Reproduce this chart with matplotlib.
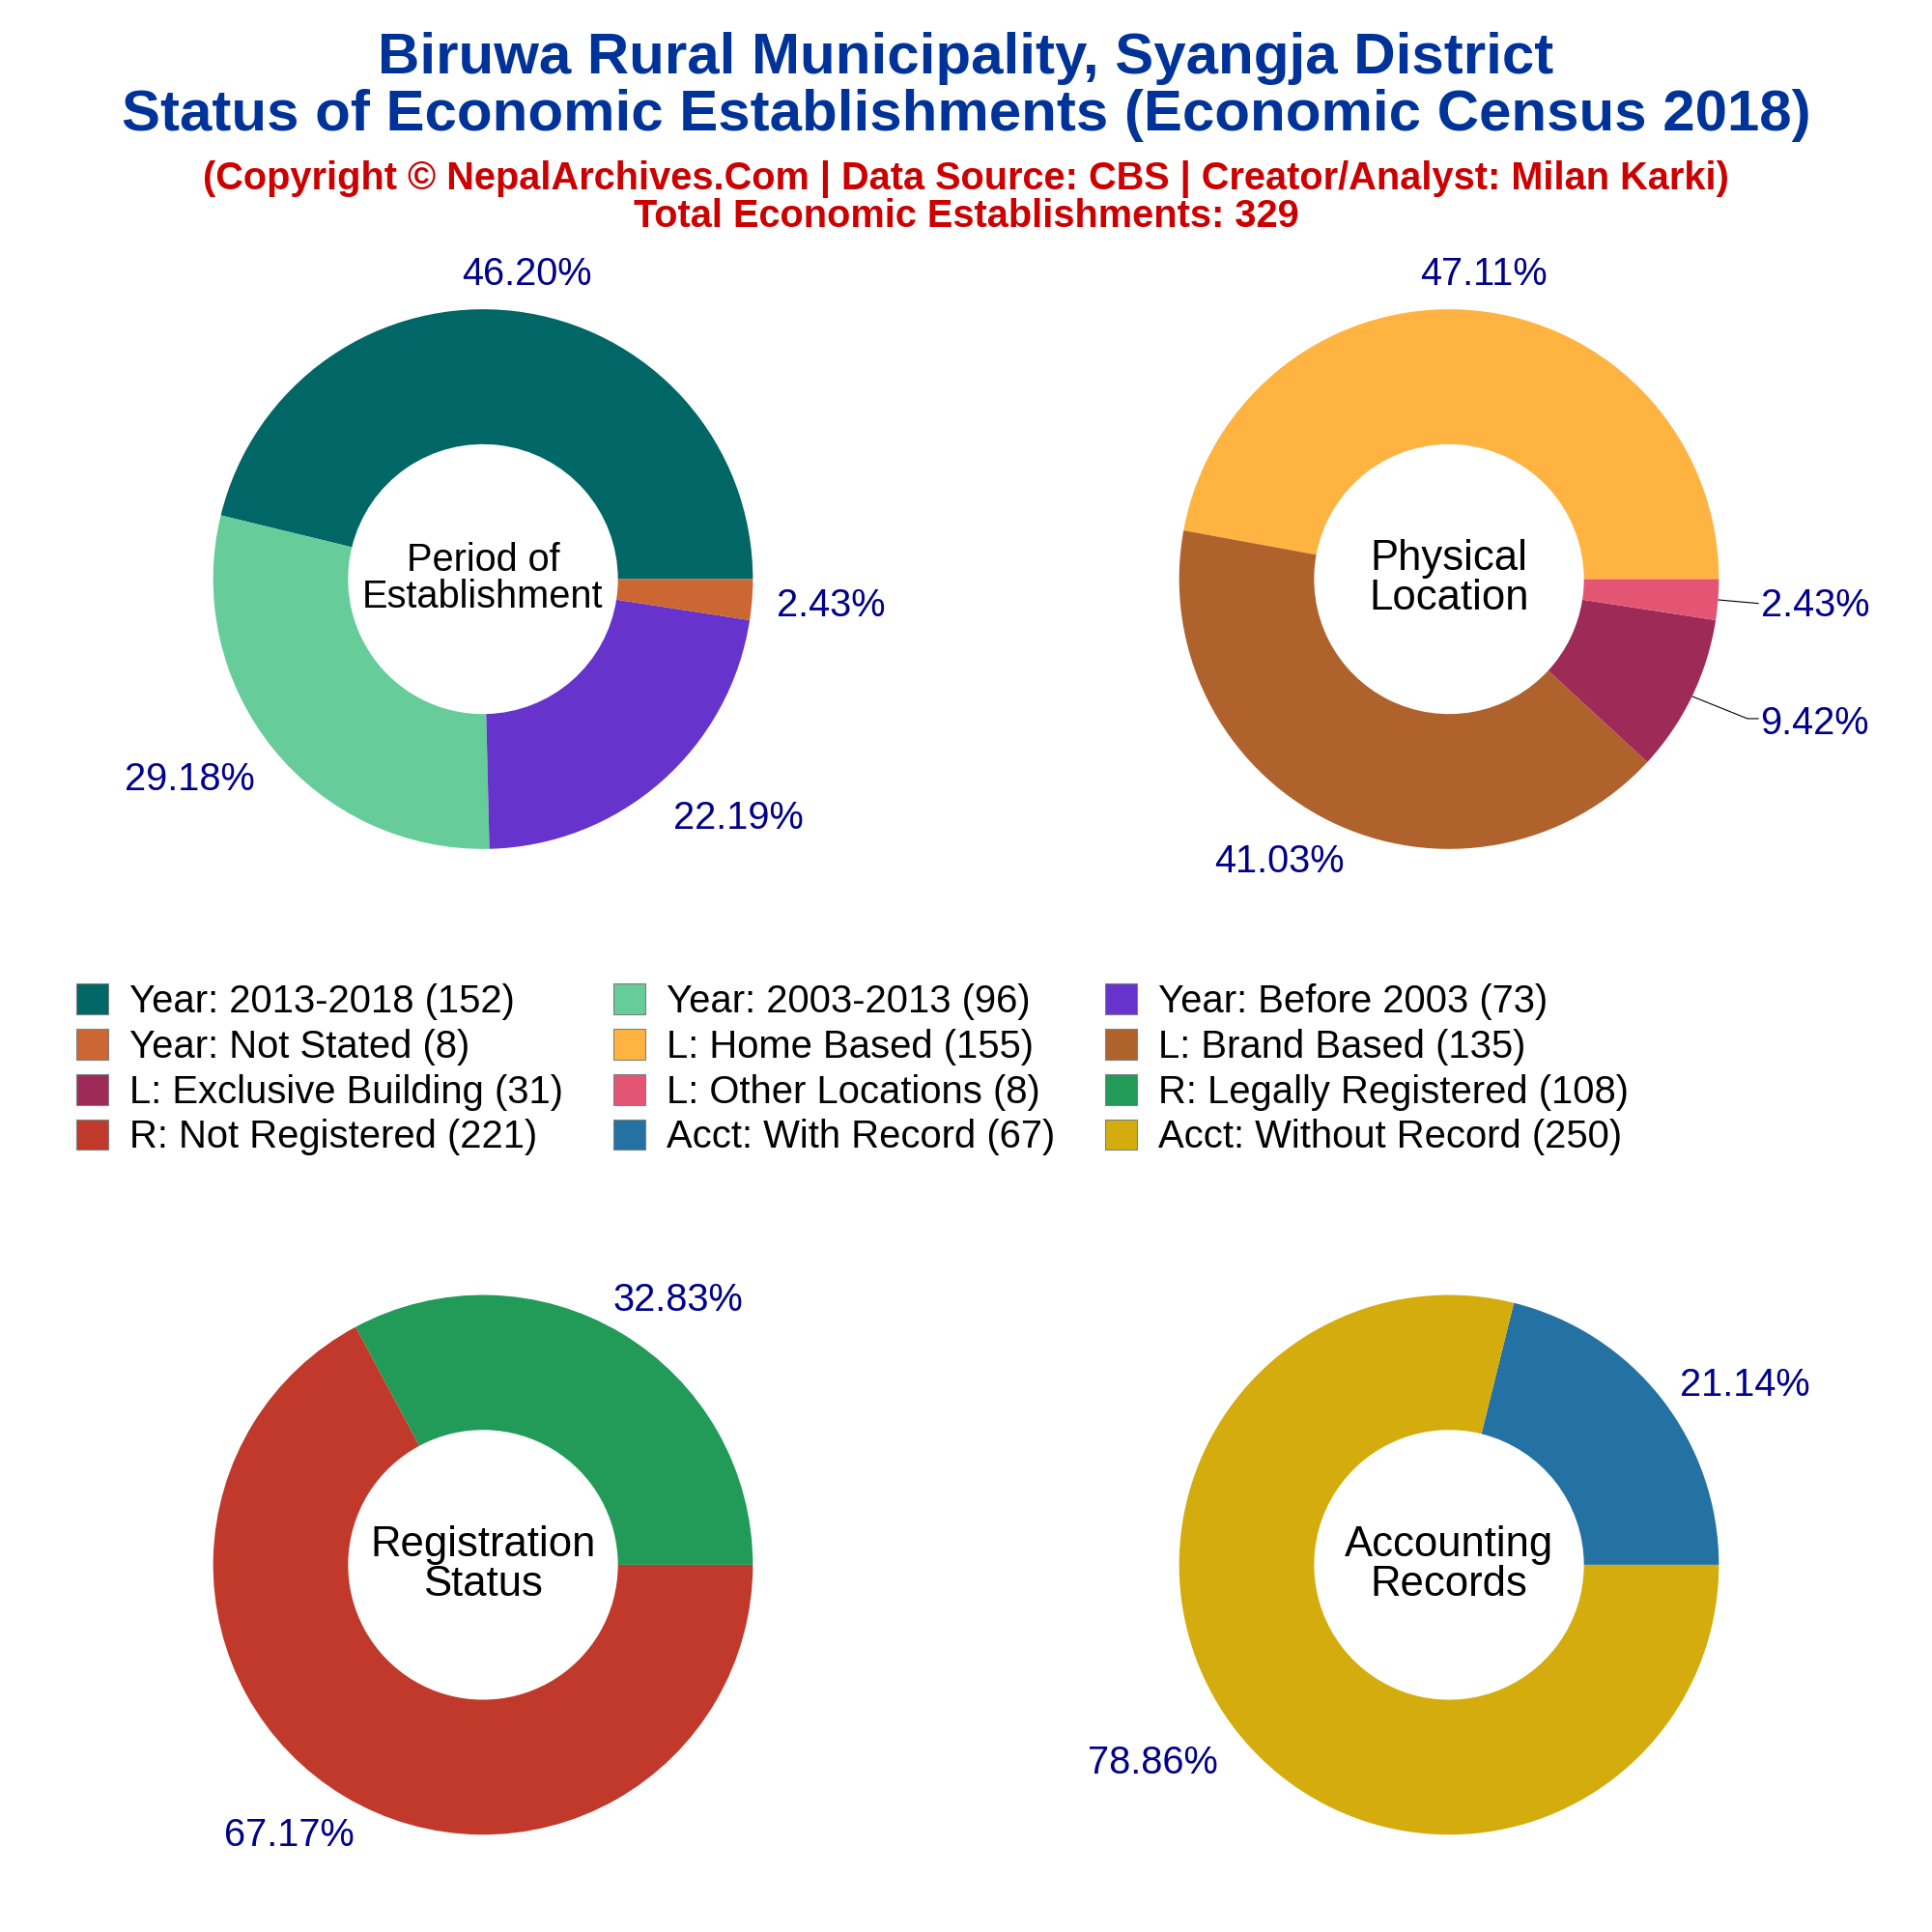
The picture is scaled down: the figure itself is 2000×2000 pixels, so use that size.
import matplotlib
matplotlib.use('Agg')
import matplotlib.pyplot as plt
from matplotlib.patches import Patch

plt.rcParams['font.family'] = ['Liberation Sans', 'DejaVu Sans']

period_values = [152, 96, 73, 8]
period_labels = ['Year: 2013-2018', 'Year: 2003-2013', 'Year: Before 2003', 'Year: Not Stated']
period_colors = ['#006666', '#66CC99', '#6633CC', '#CC6633']
period_pct = ['46.20%', '29.18%', '22.19%', '2.43%']

location_values = [155, 135, 31, 8]
location_labels = ['L: Home Based', 'L: Brand Based', 'L: Exclusive Building', 'L: Other Locations']
location_colors = ['#FFB340', '#B0622D', '#9E2A57', '#E45574']
location_pct = ['47.11%', '41.03%', '9.42%', '2.43%']

reg_values = [108, 221]
reg_labels = ['R: Legally Registered', 'R: Not Registered']
reg_colors = ['#229A58', '#C0392B']
reg_pct = ['32.83%', '67.17%']

acct_values = [67, 250]
acct_labels = ['Acct: With Record', 'Acct: Without Record']
acct_colors = ['#2471A3', '#D4AC0D']
acct_pct = ['21.14%', '78.86%']

S = 1 / 1568  # layout measured on a 1568 px view


def draw_donut(cx, cy, values, colors, pct, center, center_size, label_pos, leaders=None):
    r = 219
    ax = fig.add_axes([(cx - r) * S, 1 - (cy + r) * S, 2 * r * S, 2 * r * S])
    ax.pie(values, colors=colors, radius=1, startangle=0, wedgeprops=dict(width=0.5))
    ax.set_xlim(-1, 1)
    ax.set_ylim(-1, 1)
    ax.set_aspect('equal')
    for t, (x, y) in zip(pct, label_pos):
        ax.text(x, y - 0.009, t, color='#00008B', fontsize=14.3, ha='center', va='center', clip_on=False)
    for xs, ys in (leaders or []):
        ax.plot(xs, ys, color='black', lw=0.4, clip_on=False)
    ax.text(0, 0, center, color='black', fontsize=center_size, ha='center', va='center', linespacing=1.0)


fig = plt.figure(figsize=(10, 10), dpi=200)

fig.text(0.5, 0.955, 'Biruwa Rural Municipality, Syangja District\nStatus of Economic Establishments (Economic Census 2018)',
         ha='center', va='center', color='#003399', fontsize=21.6, fontweight='bold', linespacing=1.08)
fig.text(0.5, 0.8979, '(Copyright © NepalArchives.Com | Data Source: CBS | Creator/Analyst: Milan Karki)\nTotal Economic Establishments: 329',
         ha='center', va='center', color='#CC0000', fontsize=14.3, fontweight='bold', linespacing=1.0)

draw_donut(392, 470, period_values, period_colors, period_pct, 'Period of\nEstablishment', 14.3,
           [(0.164, 1.137), (-1.087, -0.735), (0.945, -0.877), (1.288, -0.09)])
draw_donut(1176, 470, location_values, location_colors, location_pct, 'Physical\nLocation', 15.7,
           [(0.128, 1.137), (-0.63, -1.037), (1.356, -0.525), (1.356, -0.09)],
           leaders=[([0.999, 1.146], [-0.077, -0.09]), ([0.902, 1.106, 1.146], [-0.435, -0.517, -0.517])])
draw_donut(392, 1270, reg_values, reg_colors, reg_pct, 'Registration\nStatus', 15.7,
           [(0.721, 0.99), (-0.72, -0.995)])
draw_donut(1176, 1270, acct_values, acct_colors, acct_pct, 'Accounting\nRecords', 15.7,
           [(1.096, 0.676), (-1.096, -0.726)])

all_labels = period_labels + location_labels + reg_labels + acct_labels
all_values = period_values + location_values + reg_values + acct_values
all_colors = period_colors + location_colors + reg_colors + acct_colors
handles = [Patch(facecolor=c, edgecolor='#808080', linewidth=0.4, label=f'{l} ({v})')
           for l, v, c in zip(all_labels, all_values, all_colors)]
# fill row by row, legend fills by column
rows = [handles[i::3] for i in range(3)]
ordered = [h for col in rows for h in col]
fig.legend(handles=ordered, ncol=3, loc='center', bbox_to_anchor=(0.4413, 0.4464), frameon=False,
           fontsize=14.4, handlelength=0.84, handleheight=0.84, columnspacing=1.28,
           labelspacing=0.22, handletextpad=0.55, borderpad=0)

fig.savefig('out.png', dpi=200, facecolor='white')
